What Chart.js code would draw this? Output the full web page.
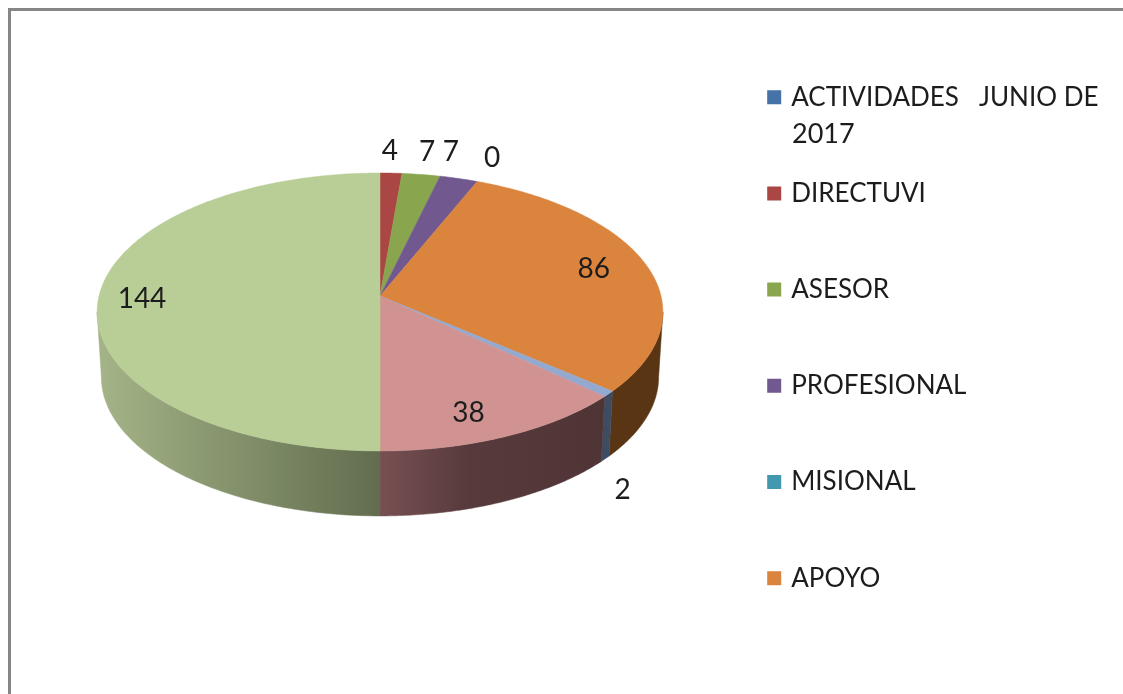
<!DOCTYPE html>
<html><head><meta charset="utf-8">
<style>html,body{margin:0;padding:0;background:#fff;overflow:hidden}canvas{display:block}</style>
<script src="https://cdn.jsdelivr.net/npm/chart.js@4"></script>
</head><body>
<canvas id="c" width="1123" height="694"></canvas>
<script>
const categories = ['ACTIVIDADES   JUNIO DE', 'DIRECTUVI', 'ASESOR', 'PROFESIONAL', 'MISIONAL', 'APOYO', '', '', ''];
const values = [null, 4, 7, 7, 0, 86, 2, 38, 144];
const sliceColors = ['#4572A7', '#AA4643', '#89A54E', '#71588F', '#4198AF', '#DB843D', '#93A9CF', '#D19392', '#B9CD96'];
const sideStart = ['#3E4C62', '#6b2c2a', '#56682f', '#47375a', '#29606f', '#5A3513', '#3E4C62', '#785052', '#A5B488'];
const sideEnd   = ['#3E4C62', '#6b2c2a', '#56682f', '#47375a', '#29606f', '#5A3513', '#3E4C62', '#4F3436', '#616D4E'];
const legendContinuation = '2017';

const FONT = 'Lato';
const TEXT = '#1c1c1c';
const labelShift = [null, [-1,-22], [6,-23], [-8,-27], [15,-24], [-52,5], [14,96], [-38,-23], [43,3]];
const K = 0.115, SQUASH = 0.488, DEPTH = 65, BOTTOM_SCALE = 0.985;

function project(el, theta, down) {
  const sx = Math.sin(theta), sy = -Math.cos(theta);
  const den = 1 + K * Math.cos(theta);
  let x = sx * el.outerRadius / den, y = sy * el.outerRadius * SQUASH / den;
  if (down) { x *= BOTTOM_SCALE; y += DEPTH; }
  return [el.x + x, el.y + y];
}

const pie3d = {
  id: 'pie3d',
  beforeDraw(chart) {
    const c = chart.ctx;
    c.save();
    c.fillStyle = '#fff'; c.fillRect(0, 0, chart.width, chart.height);
    c.fillStyle = '#868686';
    c.fillRect(8, 8, chart.width - 8, 3);
    c.fillRect(8, 8, 3, chart.height - 8);
    c.restore();
  },
  afterLayout(chart) {
    chart.chartArea = {left: 99, top: 15, right: 661, bottom: 577, width: 562, height: 562};
    const lg = chart.legend;
    lg.left = 700; lg.top = 14; lg.right = 1123; lg.bottom = 900; lg.width = 423; lg.height = 886;
  },
  beforeDatasetDraw() { return false; },
  afterDatasetsDraw(chart) {
    const c = chart.ctx, arcs = chart.getDatasetMeta(0).data;
    const edge = Math.acos(-K);
    c.save();
    // side wall: only between the two silhouette angles of the rim
    arcs.forEach((el, i) => {
      if (!values[i]) return;
      const a = el.startAngle + Math.PI / 2, b = el.endAngle + Math.PI / 2;
      const lo = Math.max(a, edge), hi = Math.min(b, 2 * Math.PI - edge);
      if (hi <= lo) return;
      const n = 80, top = [], bot = [];
      for (let j = 0; j <= n; j++) {
        const t = lo + (hi - lo) * j / n;
        top.push(project(el, t, false));
        bot.push(project(el, t, true));
      }
      const xs = top.concat(bot).map(p => p[0]);
      const g = c.createLinearGradient(Math.min(...xs), 0, Math.max(...xs), 0);
      g.addColorStop(0, sideStart[i]);
      if (i === 7) g.addColorStop(0.4, '#573A3C');
      g.addColorStop(1, sideEnd[i]);
      c.fillStyle = g;
      c.strokeStyle = g;
      c.lineWidth = 0.5;
      c.beginPath();
      top.forEach((p, j) => j ? c.lineTo(p[0], p[1]) : c.moveTo(p[0], p[1]));
      bot.reverse().forEach(p => c.lineTo(p[0], p[1]));
      c.closePath(); c.fill(); c.stroke();
    });
    // top face
    arcs.forEach((el, i) => {
      if (!values[i]) return;
      const a = el.startAngle + Math.PI / 2, b = el.endAngle + Math.PI / 2;
      c.fillStyle = sliceColors[i];
      c.strokeStyle = sliceColors[i];
      c.lineWidth = 0.5;
      c.beginPath();
      c.moveTo(el.x, el.y);
      const n = Math.max(8, Math.ceil((b - a) * 80));
      for (let j = 0; j <= n; j++) {
        const p = project(el, a + (b - a) * j / n, false);
        c.lineTo(p[0], p[1]);
      }
      c.closePath(); c.fill(); c.stroke();
    });
    // value labels
    c.font = '28px ' + FONT;
    c.fillStyle = TEXT;
    c.textAlign = 'center';
    c.textBaseline = 'middle';
    arcs.forEach((el, i) => {
      if (values[i] === null) return;
      const mid = (el.startAngle + el.endAngle) / 2 + Math.PI / 2;
      const p = project(el, mid, false);
      c.fillText(String(values[i]), p[0] + labelShift[i][0], p[1] + labelShift[i][1]);
    });
    // wrapped second line of the first legend entry
    c.font = '27px ' + FONT;
    c.textAlign = 'left';
    c.fillText(legendContinuation, 792, 134);
    c.restore();
  }
};

new Chart(document.getElementById('c'), {
  type: 'pie',
  data: {
    labels: categories,
    datasets: [{ data: values, backgroundColor: sliceColors, borderWidth: 0 }]
  },
  options: {
    responsive: false,
    animation: false,
    plugins: {
      tooltip: { enabled: false },
      legend: {
        display: true,
        position: 'right',
        align: 'start',
        labels: {
          font: { family: FONT, size: 26 },
          color: TEXT,
          boxWidth: 8,
          boxHeight: 8,
          padding: 70.2,
          generateLabels(chart) {
            return Chart.overrides.pie.plugins.legend.labels.generateLabels(chart)
              .filter(it => it.text !== '')
              .map(it => Object.assign(it, { strokeStyle: it.fillStyle, lineWidth: 6 }));
          }
        }
      }
    }
  },
  plugins: [pie3d]
});
</script>
</body></html>
